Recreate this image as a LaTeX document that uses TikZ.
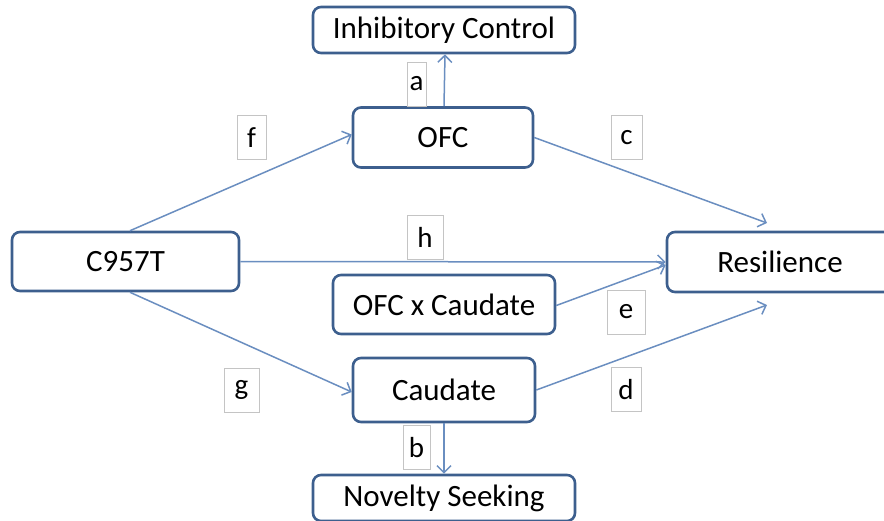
\documentclass[tikz,border=0pt]{standalone}
\usepackage{fontspec}
\setmainfont{Carlito}
\usetikzlibrary{arrows.meta}
\definecolor{boxblue}{HTML}{3D5F8E}
\definecolor{arrowblue}{HTML}{6A8EC0}
\definecolor{lblgray}{HTML}{C4C4C4}
\begin{document}
\begin{tikzpicture}[x=1pt,y=-1pt,
  mainbox/.style={draw=boxblue, line width=2.6pt, rounded corners=8pt, fill=white,
    inner sep=0pt, font=\fontsize{31}{35}\selectfont, text=black},
  lbl/.style={draw=lblgray, line width=0.8pt, fill=white, inner sep=0pt,
    minimum height=44pt, font=\fontsize{29}{33}\selectfont},
  conn/.style={draw=arrowblue, line width=1.5pt, -{Straight Barb[length=7pt,width=14pt,line width=1.5pt]}},
  link/.style={draw=arrowblue, line width=1.5pt}]
\useasboundingbox (0,0) rectangle (884,520);
\begin{scope}
\clip (0,0) rectangle (884,520);
% main boxes
\node[mainbox, minimum width=262pt, minimum height=46pt] (ic) at (444,30) {Inhibitory Control};
\node[mainbox, minimum width=180pt, minimum height=60pt] (ofc) at (443,137.5) {OFC};
\node[mainbox, minimum width=227pt, minimum height=59pt] (gene) at (125.5,261.5) {C957T};
\node[mainbox, minimum width=226pt, minimum height=60pt] (res) at (780,262) {Resilience};
\node[mainbox, minimum width=222pt, minimum height=59pt] (oxc) at (444,304.5) {OFC x Caudate};
\node[mainbox, minimum width=182pt, minimum height=64pt] (cau) at (444,390) {Caudate};
\node[mainbox, minimum width=262pt, minimum height=46pt] (nov) at (444,498) {Novelty Seeking};
% free ends
\coordinate (cend) at (767,223);
\coordinate (dend) at (767,305);
% labels
\node[lbl, minimum width=19pt] (la) at (416.5,84) {a};
\node[lbl, minimum width=27pt] (lb) at (416.5,447.5) {b};
\node[lbl, minimum width=31pt] (lc) at (626.5,137.5) {c};
\node[lbl, minimum width=30pt] (ld) at (626,389.5) {d};
\node[lbl, minimum width=38pt] (le) at (626,312) {e};
\node[lbl, minimum width=29pt] (lf) at (251.5,137.5) {f};
\node[lbl, minimum width=35pt] (lg) at (241.5,390) {g};
\node[lbl, minimum width=36pt] (lh) at (425,237) {h};
% connectors
\draw[conn] ([xshift=1pt]ofc.north) -- ([xshift=1pt]ic.south);
\draw[conn] (cau.south) -- (nov.north);
\draw[conn] ([xshift=4.5pt]gene.north) -- ([yshift=3pt]ofc.west);
\draw[conn] ([xshift=4.5pt]gene.south) -- ([yshift=-2pt]cau.west);
\draw[conn] (gene.east) -- (res.west);
\draw[conn] (ofc.east) -- (cend);
\draw[conn] (cau.east) -- (dend);
\draw[conn] ([yshift=-1pt]oxc.east) -- ([yshift=-3pt]res.west);
\end{scope}
\end{tikzpicture}
\end{document}
